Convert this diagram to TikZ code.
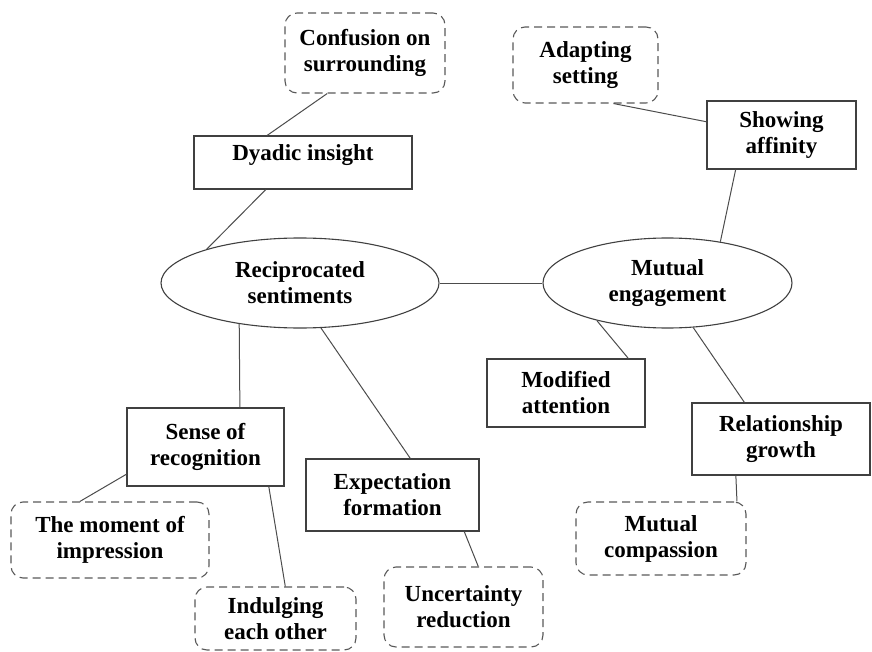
\documentclass[tikz,border=0pt]{standalone}
\usepackage{fontspec}
\setmainfont{Liberation Serif}
\usetikzlibrary{shapes.geometric}

\begin{document}
\begin{tikzpicture}[x=1pt,y=-1pt,
  every node/.style={font=\fontsize{23}{26}\selectfont\bfseries, align=center, inner sep=2pt},
  box/.style={draw=black!75, line width=1.1pt, rectangle},
  dbox/.style={draw=black!65, line width=1.1pt, dash pattern=on 8pt off 5pt, rounded corners=12pt},
  oval/.style={draw=black!75, line width=1.1pt, ellipse, inner sep=0pt},
  link/.style={draw=black!70, line width=1pt}]
\useasboundingbox (0,0) rectangle (872,652);
% centre themes
\node[oval, minimum width=278pt, minimum height=90pt] (recip) at (300,283) {Reciprocated\\sentiments};
\node[oval, minimum width=249pt, minimum height=90pt] (mutual) at (667.5,283) {Mutual\\engagement};
% sub themes
\node[box, minimum width=218pt, minimum height=53pt, text depth=19pt] (dyadic) at (303,162.5) {Dyadic insight};
\node[box, minimum width=149pt, minimum height=68pt] (affinity) at (781.5,135) {Showing\\affinity};
\node[box, minimum width=157pt, minimum height=78pt] (sense) at (205.5,447) {Sense of\\recognition};
\node[box, minimum width=173pt, minimum height=72pt] (expect) at (392.5,495) {Expectation\\formation};
\node[box, minimum width=158pt, minimum height=68pt] (modified) at (566,393) {Modified\\attention};
\node[box, minimum width=178pt, minimum height=72pt] (growth) at (781,439) {Relationship\\growth};
% codes
\node[dbox, minimum width=160pt, minimum height=80pt] (confusion) at (365,53) {Confusion on\\surrounding};
\node[dbox, minimum width=145pt, minimum height=76pt] (adapting) at (585.5,65) {Adapting\\setting};
\node[dbox, minimum width=198pt, minimum height=76pt] (moment) at (110,540) {The moment of\\impression};
\node[dbox, minimum width=161pt, minimum height=63pt] (indulge) at (275.5,618.5) {Indulging\\each other};
\node[dbox, minimum width=159pt, minimum height=80pt] (uncertain) at (463.5,607) {Uncertainty\\reduction};
\node[dbox, minimum width=170pt, minimum height=73pt] (compassion) at (661,538.5) {Mutual\\compassion};
% links
\draw[link] (confusion.227) -- (dyadic.143);
\draw[link] (dyadic.216) -- (recip.160);
\draw[link] (recip.east) -- (mutual.west);
\draw[link] (adapting.306) -- (affinity.170);
\draw[link] (affinity.217) -- (mutual.38);
\draw[link] (recip.214) -- (sense.49);
\draw[link] (recip.295) -- (expect.64);
\draw[link] (sense.199) -- (moment.128);
\draw[link] (sense.328) -- (indulge.73);
\draw[link] (expect.333) -- (uncertain.70);
\draw[link] (mutual.208) -- (modified.29);
\draw[link] (mutual.300) -- (growth.135);
\draw[link] (growth.219) -- (compassion.26);
\end{tikzpicture}
\end{document}
